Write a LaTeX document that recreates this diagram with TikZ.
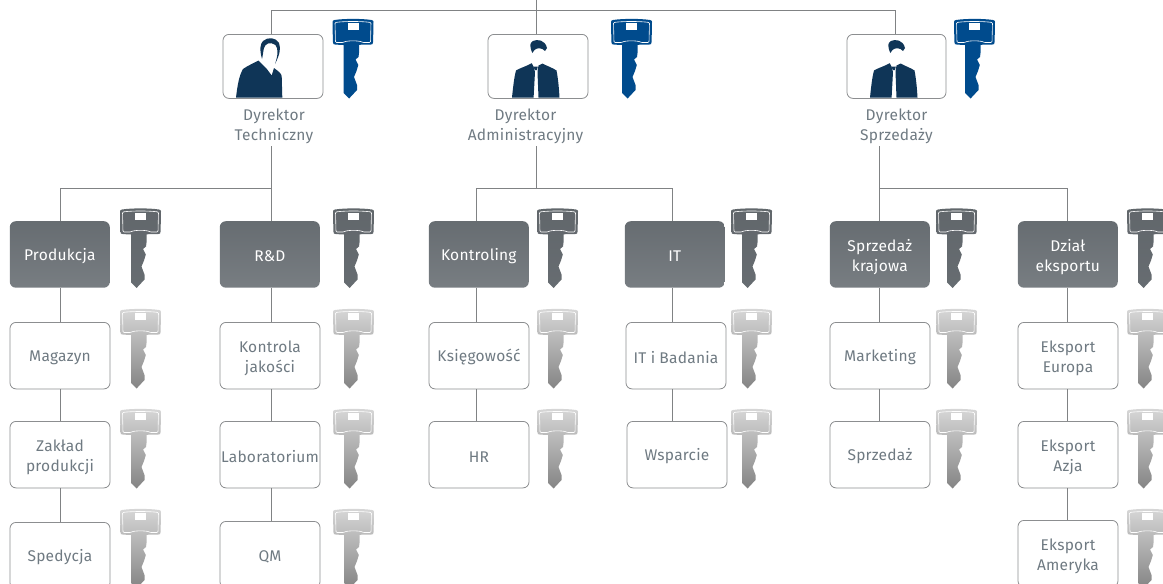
\documentclass[tikz,border=0pt]{standalone}
\usepackage{fontspec}
\setmainfont[LetterSpace=1.6]{Fira Sans}
\definecolor{ln}{HTML}{808284}
\definecolor{bd}{HTML}{8C8E90}
\definecolor{txt}{HTML}{6F7A82}
\definecolor{dk}{HTML}{6C7277}
\definecolor{navy}{HTML}{0F3557}
\definecolor{keyblue}{HTML}{004B8D}
\newcommand{\twol}[2]{\parbox{96pt}{\centering\vspace*{5pt}#1\\#2}}
\tikzset{
  x=1pt,y=-1pt,
  conn/.style={draw=ln,line width=1pt},
  basebox/.style={anchor=north west,xshift=-.4pt,minimum width=100pt,minimum height=66.5pt,rounded corners=6pt,align=center,inner sep=0pt,font=\fontsize{15.5}{20}\selectfont,text=txt,execute at begin node={\rule{0pt}{15pt}}},
  lightbox/.style={basebox,draw=bd,line width=.8pt,fill=white},
  darkbox/.style={basebox,top color=dk!95!black,bottom color=dk!92!white,text=white},
  photobox/.style={basebox,draw=bd,line width=.8pt,fill=white,minimum height=64pt},
  caption/.style={align=center,inner sep=0pt,font=\fontsize{15.5}{20}\selectfont,text=txt},
  keybody/.pic={
    \path[pic actions] (2,1) .. controls (12,-.5) and (29,-.5) .. (39,1) .. controls (40.5,1.2) and (41,2) .. (41,3)
      -- (40.6,23) .. controls (40.5,25) and (40,25.6) .. (38,25.6) -- (29,25.6)
      -- (26.5,26) -- (26.5,34) -- (26,38) -- (23,40.5) -- (25.8,46) -- (24,52) -- (21.5,58) -- (24.5,66) -- (24.5,71) -- (16.6,79.5) -- (11,74)
      -- (11,26) -- (3,25.6) .. controls (1,25.6) and (.5,25) .. (.4,23) -- (0,3) .. controls (0,2) and (.5,1.2) .. (2,1) -- cycle;
    \draw[white,line width=.6pt,rounded corners=1pt] (2.5,3.5) .. controls (12,2.2) and (29,2.2) .. (38.5,3.5) -- (38,23.5) -- (30,23.5) .. controls (27,21.5) and (14,21.5) .. (11,23.5) -- (3,23.5) -- cycle;
    \fill[white] (15,4.3) rectangle (26,11);
  },
  bluekey/.style={fill=keyblue},
  darkkey/.style={top color=dk!90!black,bottom color=dk!95!black},
  palekey/.style={top color=black!16,bottom color=black!48},
}
\newcommand{\keyat}[3]{\pic[#3] at (#1,#2) {keybody};}
\begin{document}
\begin{tikzpicture}
\useasboundingbox (0,0) rectangle (1163,584);
\clip (0,0) rectangle (1163,584);
% photo boxes
\node[photobox] (d1) at (223,34) {};
\node[photobox] (d2) at (488,34) {};
\node[photobox,minimum width=99pt] (d3) at (847,34) {};
\coordinate (root) at (536,0);
\coordinate (barl) at (271,10.4);
\coordinate (barr) at (895,10.4);
\node[caption] (c1) at (274,126) {Dyrektor\\Techniczny};
\node[caption] (c2) at (525.5,126) {Dyrektor\\Administracyjny};
\node[caption] (c3) at (896.5,126) {Dyrektor\\Sprzedaży};
\draw[conn] (root) -- (root |- d2.north);
\draw[conn] (barl |- d1.north) -- (barl) -- (barr) -- (barr |- d3.north);
% boxes
\node[darkbox] (a0) at (10,221) {Produkcja};
\node[lightbox] (a1) at (10,322) {Magazyn};
\node[lightbox] (a2) at (10,421) {\twol{Zakład}{produkcji}};
\node[lightbox] (a3) at (10,522) {Spedycja};
\node[darkbox] (b0) at (220,221) {R\&D};
\node[lightbox] (b1) at (220,322) {\twol{Kontrola}{jakości}};
\node[lightbox] (b2) at (220,421) {Laboratorium};
\node[lightbox] (b3) at (220,521) {QM};
\node[darkbox] (e0) at (429,221) {Kontroling};
\node[lightbox] (e1) at (429,322) {Księgowość};
\node[lightbox] (e2) at (429,421) {HR};
\node[darkbox] (f0) at (625,221) {IT};
\node[lightbox] (f1) at (626,322) {IT i Badania};
\node[lightbox] (f2) at (627,421) {Wsparcie};
\node[darkbox] (g0) at (830,221) {\twol{Sprzedaż}{krajowa}};
\node[lightbox] (g1) at (830,322) {Marketing};
\node[lightbox] (g2) at (830,421) {Sprzedaż};
\node[darkbox] (h0) at (1018,221) {\twol{Dział}{eksportu}};
\node[lightbox] (h1) at (1018,322) {\twol{Eksport}{Europa}};
\node[lightbox] (h2) at (1018,421) {\twol{Eksport}{Azja}};
\node[lightbox] (h3) at (1018,520) {\twol{Eksport}{Ameryka}};
% connectors
\coordinate (ta) at (60,188.4);\coordinate (tb) at (271,188.4);
\coordinate (te) at (476.5,188.4);\coordinate (tm) at (536,188.4);\coordinate (tf) at (672.7,188.4);
\coordinate (tg) at (879.5,188.4);\coordinate (th) at (1067.5,188.4);
\coordinate (s1) at (271,146);\coordinate (s2) at (536,146);\coordinate (s3) at (879.5,146);
\draw[conn] (s1) -- (tb);
\draw[conn] (s2) -- (tm);
\draw[conn] (s3) -- (tg);
\draw[conn] (ta |- a0.north) -- (ta) -- (tb) -- (tb |- b0.north);
\draw[conn] (te |- e0.north) -- (te) -- (tf) -- (tf |- f0.north);
\draw[conn] (tg |- g0.north) -- (tg) -- (th) -- (th |- h0.north);
\draw[conn] (ta |- a0.south) -- (ta |- a1.north) (ta |- a1.south) -- (ta |- a2.north) (ta |- a2.south) -- (ta |- a3.north);
\draw[conn] (tb |- b0.south) -- (tb |- b1.north) (tb |- b1.south) -- (tb |- b2.north) (tb |- b2.south) -- (tb |- b3.north);
\draw[conn] (te |- e0.south) -- (te |- e1.north) (te |- e1.south) -- (te |- e2.north);
\draw[conn] (tf |- f0.south) -- (tf |- f1.north) (tf |- f1.south) -- (tf |- f2.north);
\draw[conn] (tg |- g0.south) -- (tg |- g1.north) (tg |- g1.south) -- (tg |- g2.north);
\draw[conn] (th |- h0.south) -- (th |- h1.north) (th |- h1.south) -- (th |- h2.north) (th |- h2.south) -- (th |- h3.north);
% persons
\fill[navy] (236,97.6) .. controls (237.5,85) and (239,76) .. (243,69) .. controls (248,65.5) and (254,63) .. (258.5,60.5) -- (266.5,68.5) -- (271.7,75.5) -- (274,68) .. controls (278,71) and (281,73) .. (281.7,76) -- (282.3,97.6) -- cycle;
\fill[navy] (262,59) .. controls (259.5,50) and (260,44) .. (263,41) .. controls (268,36.5) and (276,37.5) .. (279,43) .. controls (281.5,49) and (279,56) .. (275,64) .. controls (278,55) and (278.5,49) .. (275.5,45) .. controls (270,41) and (265,44) .. (264,48) .. controls (263,52) and (263,55) .. (262,59) -- cycle;
\newcommand{\suit}[1]{\begin{scope}[xshift=#1]
\fill[navy] (512,97.6) .. controls (513,88) and (514,78) .. (516,70.5) .. controls (520,68) and (527,66) .. (531.7,63.2) -- (533.5,66.5) -- (535,72) -- (533.6,97.6) -- cycle;
\fill[navy] (538.5,97.6) -- (537.5,72) -- (538.5,65.5) -- (542.5,63.5) .. controls (547,66) and (553,68) .. (556.5,70.5) .. controls (558,78) and (559,88) .. (559.5,97.6) -- cycle;
\fill[navy] (533.5,66.5) -- (537.8,66.5) -- (537,70) -- (534.8,70) -- cycle;
\fill[navy] (532.3,53) .. controls (529.5,46) and (529.5,43) .. (533,41) .. controls (537,39) and (545,39.5) .. (547,48) -- (545,51) .. controls (542,47.5) and (537,47.5) .. (534.5,50) -- cycle;
\end{scope}}
\suit{0pt}\suit{358pt}
% keys
\keyat{332.5}{19}{bluekey}\keyat{611}{19}{bluekey}\keyat{954}{19}{bluekey}
\foreach \kx in {120,333,537,731,936,1127}{\keyat{\kx}{208.5}{darkkey}}
\foreach \kx/\ky in {120/309,120/409,120/509,333/309,333/409,333/509,537/309,537/409,731/309,731/409,936/309,936/409,1127/309,1127/409,1127/509}{\keyat{\kx}{\ky}{palekey}}
\end{tikzpicture}
\end{document}
